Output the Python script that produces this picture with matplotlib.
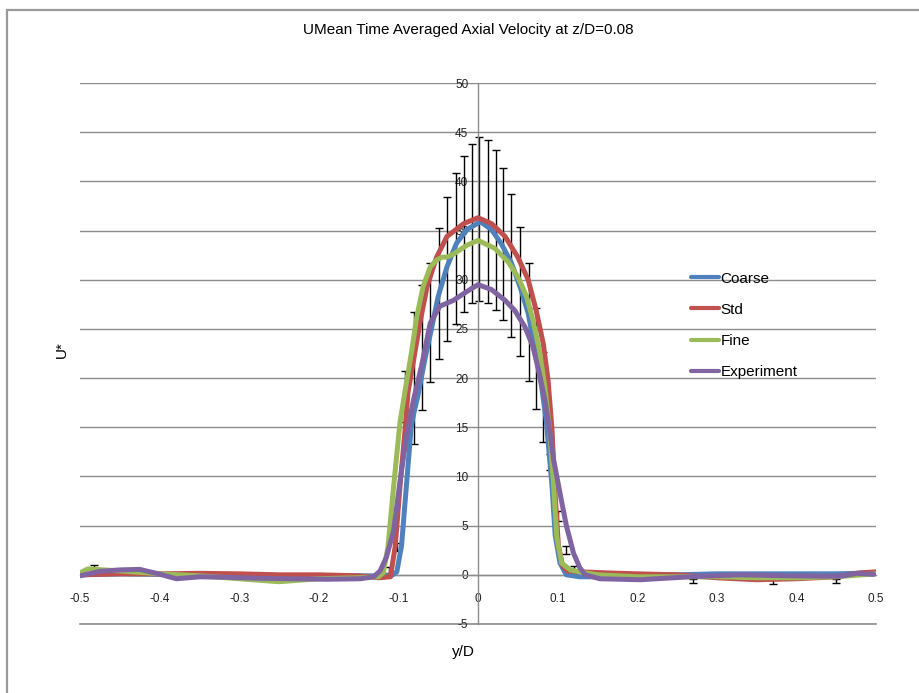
import matplotlib
matplotlib.use("Agg")
import matplotlib.pyplot as plt
from matplotlib.patches import Rectangle

plt.rcParams['font.family'] = ['Liberation Sans', 'DejaVu Sans']
plt.rcParams['axes.unicode_minus'] = False

# ---------------- data ----------------
coarse_x = [-0.5, -0.45, -0.4, -0.35, -0.3, -0.25, -0.2, -0.15, -0.12, -0.108, -0.102,
            -0.096, -0.090, -0.084, -0.081, -0.075, -0.067, -0.058, -0.05, -0.039, -0.027,
            -0.014, 0.003, 0.017, 0.029, 0.042, 0.054, 0.063, 0.071, 0.080, 0.086, 0.093,
            0.097, 0.103, 0.111, 0.128, 0.15, 0.2, 0.25, 0.3, 0.35, 0.4, 0.45, 0.5]
coarse_y = [0.0, 0.1, 0.05, 0.0, -0.1, -0.15, -0.1, -0.1, -0.1, -0.05, 0.3,
            3.0, 9.0, 15.0, 16.3, 18.4, 21.8, 25.2, 28.3, 31.3, 33.7,
            35.1, 35.9, 35.1, 33.7, 31.7, 29.0, 26.6, 23.2, 19.1, 15.5, 9.0,
            4.0, 1.2, 0.0, -0.2, -0.2, -0.1, 0.0, 0.1, 0.1, 0.1, 0.1, 0.2]

std_x = [-0.5, -0.45, -0.4, -0.35, -0.3, -0.25, -0.2, -0.15, -0.125, -0.11, -0.104,
         -0.098, -0.092, -0.088, -0.081, -0.073, -0.064, -0.052, -0.039, -0.018, 0.0,
         0.017, 0.034, 0.05, 0.063, 0.073, 0.082, 0.088, 0.093, 0.097, 0.101, 0.106,
         0.112, 0.13, 0.16, 0.2, 0.25, 0.3, 0.35, 0.4, 0.45, 0.48, 0.5]
std_y = [0.0, 0.1, 0.1, 0.15, 0.1, 0.0, 0.0, -0.1, -0.3, -0.2, 2.9,
         9.0, 14.4, 18.5, 21.8, 25.6, 29.3, 32.3, 34.4, 35.7, 36.3,
         35.7, 34.4, 32.3, 30.0, 26.9, 23.5, 19.8, 14.7, 8.0, 3.0, 1.0,
         0.4, 0.3, 0.2, 0.1, 0.0, -0.3, -0.5, -0.4, -0.2, 0.2, 0.3]

fine_x = [-0.5, -0.49, -0.47, -0.45, -0.4, -0.35, -0.3, -0.25, -0.2, -0.15, -0.125,
          -0.119, -0.113, -0.106, -0.098, -0.090, -0.083, -0.077, -0.069, -0.060, -0.052,
          -0.045, -0.039, -0.031, -0.014, 0.0, 0.021, 0.038, 0.05, 0.061, 0.069, 0.077,
          0.084, 0.090, 0.095, 0.099, 0.105, 0.116, 0.128, 0.15, 0.2, 0.25, 0.3, 0.35,
          0.4, 0.45, 0.5]
fine_y = [0.2, 0.6, 0.5, 0.4, 0.1, -0.1, -0.4, -0.7, -0.4, -0.3, -0.2,
          0.2, 2.9, 9.0, 15.5, 19.5, 22.9, 26.2, 29.3, 31.3, 32.0,
          32.3, 32.3, 32.6, 33.5, 34.0, 33.2, 31.8, 30.3, 28.3, 25.9, 22.9,
          19.1, 14.7, 9.0, 3.8, 1.2, 0.5, 0.3, 0.0, -0.2, -0.2, -0.2, -0.3,
          -0.3, -0.2, 0.1]

exp_x = [-0.5, -0.475, -0.45, -0.425, -0.404, -0.379, -0.349, -0.316, -0.274, -0.232,
         -0.19, -0.148, -0.131, -0.123, -0.115, -0.106, -0.098, -0.090, -0.081, -0.071,
         -0.060, -0.048, -0.031, -0.014, 0.0, 0.017, 0.034, 0.046, 0.059, 0.069, 0.077,
         0.084, 0.090, 0.095, 0.103, 0.111, 0.120, 0.128, 0.135, 0.153, 0.204, 0.266,
         0.329, 0.392, 0.455, 0.476, 0.497]
exp_y = [-0.1, 0.35, 0.5, 0.55, 0.15, -0.4, -0.2, -0.25, -0.35, -0.4,
         -0.45, -0.4, -0.2, 0.4, 1.8, 4.5, 9.5, 14.0, 17.8, 21.2,
         25.6, 27.3, 27.9, 28.8, 29.5, 29.0, 27.9, 26.9, 25.2, 23.2, 20.5,
         17.8, 14.7, 11.7, 8.3, 5.0, 2.2, 0.7, 0.0, -0.4, -0.5, -0.2,
         0.0, -0.1, -0.15, 0.15, 0.05]

# error bars (lower and upper ends)
err_x = [-0.112, -0.102, -0.092, -0.080, -0.070, -0.060, -0.049, -0.039, -0.028, -0.018,
         -0.008, 0.001, 0.012, 0.022, 0.032, 0.042, 0.053, 0.064, 0.073, 0.082,
         0.090, 0.101, 0.111, 0.121, 0.27, 0.37, 0.45, -0.483]
err_lo = [0.2, 2.4, 15.5, 13.3, 16.8, 19.6, 21.9, 23.8, 25.5, 26.7,
          27.6, 27.8, 27.6, 26.9, 25.9, 24.2, 22.2, 19.7, 16.9, 13.5,
          10.7, 5.5, 2.1, 0.3, -0.8, -0.9, -0.8, 0.2]
err_hi = [0.8, 3.2, 20.7, 26.7, 29.5, 31.7, 35.3, 38.4, 40.9, 42.6,
          43.8, 44.5, 44.2, 43.2, 41.4, 38.7, 35.4, 31.7, 27.1, 22.7,
          12.3, 6.5, 2.9, 0.9, -0.4, -0.5, -0.4, 1.0]
err_mid = [(a + b) / 2 for a, b in zip(err_lo, err_hi)]
err_half = [(b - a) / 2 for a, b in zip(err_lo, err_hi)]

series_names = ['Coarse', 'Std', 'Fine', 'Experiment']
series_colors = ['#4F81BD', '#C0504D', '#9BBB59', '#8064A2']
x_ticks = [-0.5, -0.4, -0.3, -0.2, -0.1, 0, 0.1, 0.2, 0.3, 0.4, 0.5]
x_ticklabels = ['-0.5', '-0.4', '-0.3', '-0.2', '-0.1', '0', '0.1', '0.2', '0.3', '0.4', '0.5']
y_ticks = [-5, 0, 5, 10, 15, 20, 25, 30, 35, 40, 45, 50]
y_ticklabels = ['-5', '0', '5', '10', '15', '20', '25', '30', '35', '40', '45', '50']

# ---------------- figure ----------------
W, H = 919, 693
fig = plt.figure(figsize=(W / 100, H / 100), dpi=100)
fig.patch.set_facecolor('white')

# chart border (light gray, visible on left/top)
fig.patches.append(Rectangle((7 / W, -0.1), 1.2, (H - 10) / H + 0.1,
                             transform=fig.transFigure, fill=False,
                             edgecolor='#9a9a9a', linewidth=1.6))

ax = fig.add_axes([80 / W, (H - 624) / H, 796 / W, 541 / H])
ax.set_xlim(-0.5, 0.5)
ax.set_ylim(-5, 50)

grid_c = '#8c8c8c'
ax.set_yticks(y_ticks)
ax.set_yticklabels(y_ticklabels)
ax.set_xticks(x_ticks)
ax.set_xticklabels(x_ticklabels)
ax.yaxis.grid(True, color=grid_c, linewidth=1.0, zorder=0)
ax.axhline(y_ticks[0], color=grid_c, linewidth=1.2, clip_on=False, zorder=0.5)
ax.xaxis.grid(False)
ax.set_axisbelow(True)

for s in ['top', 'right']:
    ax.spines[s].set_visible(False)
ax.spines['left'].set_position(('data', 0))
ax.spines['bottom'].set_position(('data', 0))
ax.spines['left'].set_color(grid_c)
ax.spines['bottom'].set_color(grid_c)
ax.spines['left'].set_linewidth(1.0)
ax.spines['bottom'].set_linewidth(1.0)
ax.tick_params(axis='y', length=0, pad=7, labelsize=8.5, labelcolor='#222222')
ax.tick_params(axis='x', length=0, pad=13, labelsize=8.5, labelcolor='#222222')

ax.errorbar(err_x, err_mid, yerr=err_half, fmt='none', ecolor='black',
            elinewidth=1.0, capsize=3, capthick=1.0, zorder=2)

for xs, ys, name, col in zip([coarse_x, std_x, fine_x, exp_x],
                             [coarse_y, std_y, fine_y, exp_y],
                             series_names, series_colors):
    ax.plot(xs, ys, color=col, linewidth=3.6, label=name, zorder=3,
            solid_joinstyle='round', solid_capstyle='round')

leg = ax.legend(loc='upper left', bbox_to_anchor=(680 / W, (H - 261) / H),
                bbox_transform=fig.transFigure, frameon=False,
                fontsize=11, handlelength=1.85, handletextpad=0.1,
                labelspacing=1.12, borderpad=0.2)
for line in leg.get_lines():
    line.set_linewidth(3.0)

fig.text(468 / W, 1 - 30 / H, 'UMean Time Averaged Axial Velocity at z/D=0.08',
         ha='center', va='center', fontsize=11)
fig.text(463 / W, 1 - 652 / H, 'y/D', ha='center', va='center', fontsize=11)
fig.text(62 / W, 1 - 350 / H, 'U*', ha='center', va='center', fontsize=11, rotation=90)

fig.savefig('out.png', dpi=100, facecolor='white')
